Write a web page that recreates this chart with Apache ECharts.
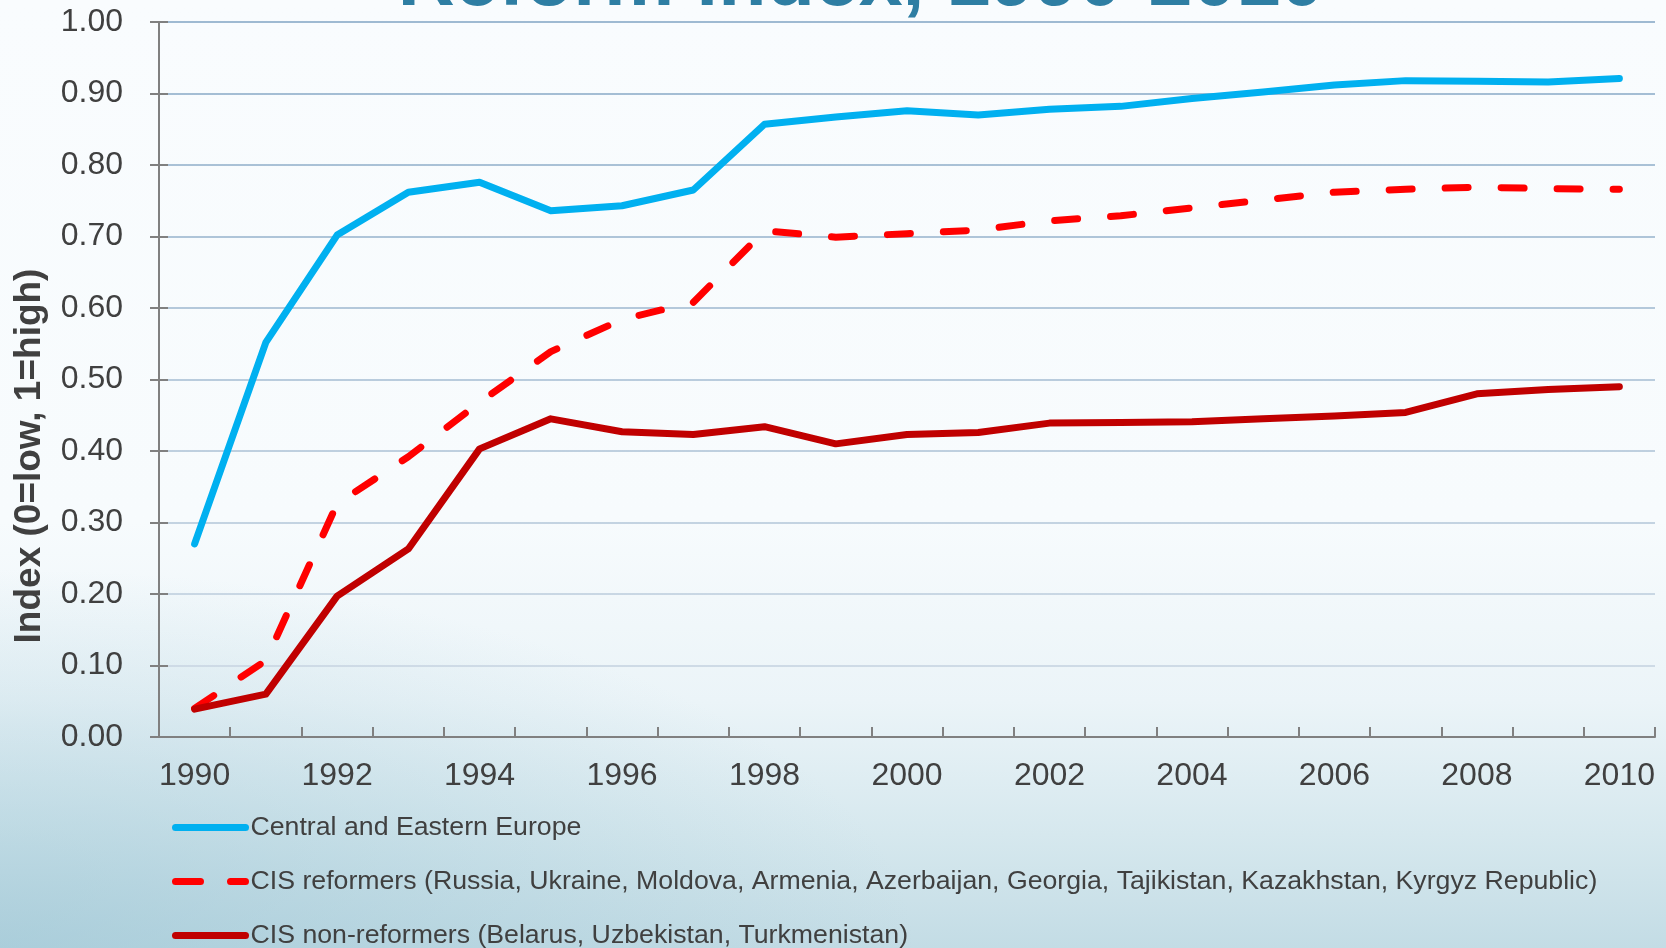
<!DOCTYPE html>
<html>
<head>
<meta charset="utf-8">
<script src="https://cdn.jsdelivr.net/npm/echarts@6/dist/echarts.min.js"></script>
<style>
html,body{margin:0;padding:0;width:1666px;height:948px;overflow:hidden;}
body{
  background:
    radial-gradient(ellipse 55% 40% at 0% 100%, rgba(150,194,210,0.55) 0%, rgba(150,194,210,0) 100%),
    linear-gradient(180deg, #f9fcfe 0%, #f7fbfd 55%, #ebf4f8 74%, #d6e8ee 88%, #c3dce5 100%);
}
#chart{width:1666px;height:948px;}
</style>
</head>
<body>
<div id="chart"></div>
<script>
const years = ['1990','1991','1992','1993','1994','1995','1996','1997','1998','1999','2000','2001','2002','2003','2004','2005','2006','2007','2008','2009','2010'];
const ceeValues = [0.270,0.552,0.702,0.762,0.776,0.736,0.743,0.765,0.857,0.867,0.876,0.870,0.878,0.882,0.893,0.902,0.912,0.918,0.917,0.916,0.921];
const cisReformValues = [0.040,0.107,0.326,0.392,0.468,0.539,0.584,0.608,0.708,0.699,0.704,0.709,0.722,0.729,0.740,0.751,0.762,0.766,0.769,0.767,0.766];
const cisNonReformValues = [0.039,0.060,0.197,0.263,0.403,0.445,0.427,0.423,0.434,0.410,0.423,0.426,0.439,0.440,0.441,0.445,0.449,0.454,0.480,0.486,0.490];
const seriesNames = [
  'Central and Eastern Europe',
  'CIS reformers (Russia, Ukraine, Moldova, Armenia, Azerbaijan, Georgia, Tajikistan, Kazakhstan, Kyrgyz Republic)',
  'CIS non-reformers (Belarus, Uzbekistan, Turkmenistan)'
];
const titleText = 'Reform index, 1990-2010';
const yAxisTitle = 'Index (0=low, 1=high)';

const FONT = '"Liberation Sans", Arial, sans-serif';
const chart = echarts.init(document.getElementById('chart'), null, {renderer:'canvas'});
const gridGrad = new echarts.graphic.LinearGradient(0, 22, 0, 737, [
  {offset:0, color:'#9fbad2'},
  {offset:1, color:'#d3dee8'}
], true);
const hidden = {color:'rgba(0,0,0,0)', borderWidth:0, borderColor:'rgba(0,0,0,0)'};

const option = {
  backgroundColor: 'transparent',
  animation: false,
  grid: {left:159, right:11, top:22, bottom:211, containLabel:false},
  graphic: [
    {type:'text', x:861, y:-17, silent:true,
     style:{text:titleText, font:'bold 79px ' + FONT, fill:'#2e7ea3', align:'center', verticalAlign:'middle'}},
    {type:'text', x:30, y:456, rotation:Math.PI/2, silent:true,
     style:{text:yAxisTitle, font:'bold 37px ' + FONT, fill:'#404040', align:'center', verticalAlign:'middle'}}
  ],
  legend: {
    orient:'vertical', left:172, top:814, width:1450, height:200, padding:0, itemGap:27,
    itemWidth:70, itemHeight:27,
    textStyle:{fontFamily:FONT, fontSize:26.7, color:'#404040'},
    data:[
      {name:seriesNames[0], itemStyle:hidden, lineStyle:{color:'#00b0f0', width:7, cap:'round'}},
      {name:seriesNames[1], itemStyle:hidden, lineStyle:{color:'#ff0000', width:7, type:[25,30], cap:'round'}},
      {name:seriesNames[2], itemStyle:hidden, lineStyle:{color:'#c00000', width:7, cap:'round'}}
    ]
  },
  xAxis: {
    type:'category', data:years, boundaryGap:true,
    axisLine:{lineStyle:{color:'#808080', width:2}},
    axisTick:{show:true, inside:true, length:10, interval:0, lineStyle:{color:'#808080', width:2}},
    axisLabel:{interval:1, margin:23, fontFamily:FONT, fontSize:32, color:'#404040'},
    splitLine:{show:false}
  },
  yAxis: [
    {
      type:'value', min:0, max:1, interval:0.1,
      axisLine:{show:true, lineStyle:{color:'#808080', width:2}},
      axisTick:{show:true, length:9, lineStyle:{color:'#808080', width:2}},
      axisLabel:{margin:36, fontFamily:FONT, fontSize:32, color:'#404040', formatter:v => v.toFixed(2)},
      splitLine:{show:true, lineStyle:{color:gridGrad, width:2}}
    },
    {
      type:'value', min:0, max:1, interval:0.1, position:'left',
      axisLine:{show:false},
      axisTick:{show:true, inside:true, length:9, lineStyle:{color:'#808080', width:2}},
      axisLabel:{show:false},
      splitLine:{show:false}
    }
  ],
  series: [
    {name:seriesNames[0], type:'line', data:ceeValues, symbol:'none', yAxisIndex:0,
     lineStyle:{color:'#00b0f0', width:7, cap:'round', join:'round'}, itemStyle:{color:'#00b0f0'}},
    {name:seriesNames[1], type:'line', data:cisReformValues, symbol:'none', yAxisIndex:0,
     lineStyle:{color:'#ff0000', width:7, type:[23,33], cap:'round', join:'round'}, itemStyle:{color:'#ff0000'}},
    {name:seriesNames[2], type:'line', data:cisNonReformValues, symbol:'none', yAxisIndex:0,
     lineStyle:{color:'#c00000', width:7, cap:'round', join:'round'}, itemStyle:{color:'#c00000'}}
  ]
};
chart.setOption(option);
</script>
</body>
</html>
